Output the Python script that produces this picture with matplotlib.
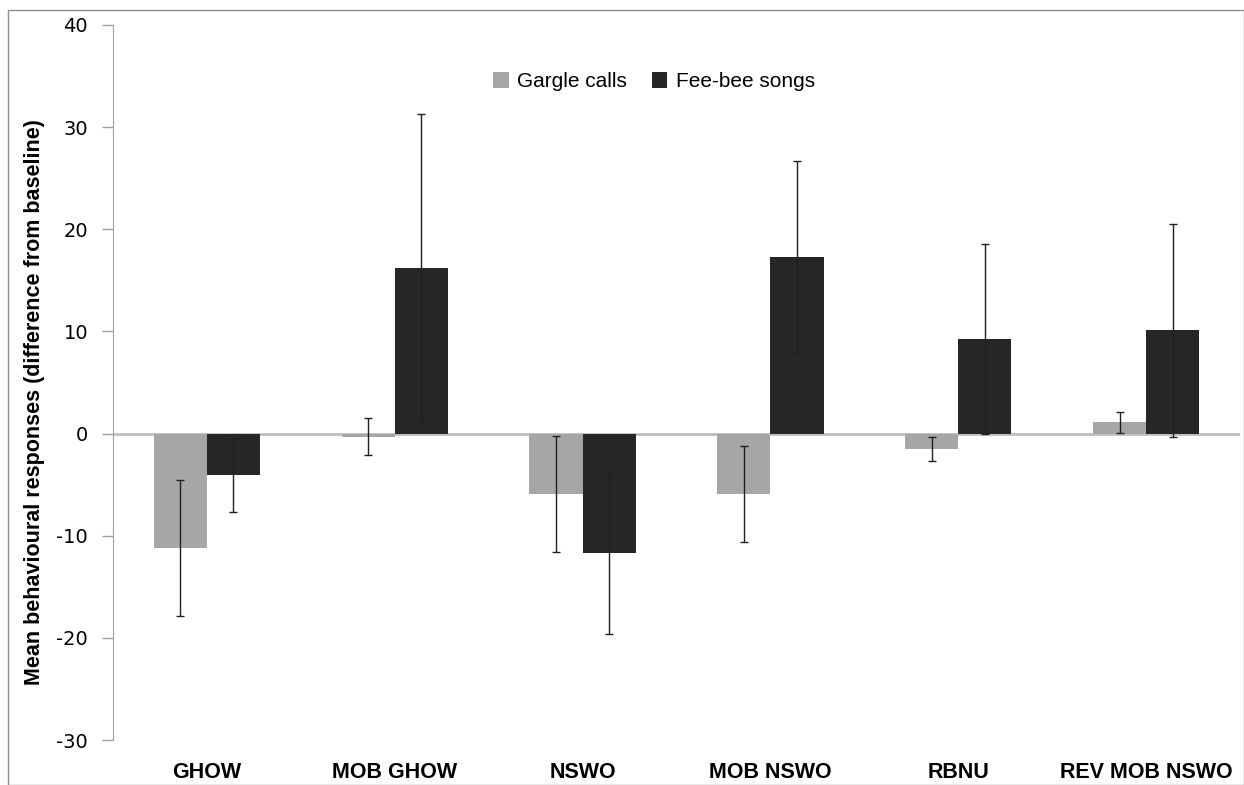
import matplotlib.pyplot as plt
import numpy as np
from matplotlib.patches import Rectangle

categories = ["GHOW", "MOB GHOW", "NSWO", "MOB NSWO", "RBNU", "REV MOB NSWO"]
gargle = [-11.2, -0.3, -5.9, -5.9, -1.5, 1.1]
gargle_err = [6.7, 1.8, 5.7, 4.7, 1.15, 1.0]
feebee = [-4.1, 16.2, -11.7, 17.3, 9.3, 10.1]
feebee_err = [3.6, 15.1, 7.9, 9.4, 9.3, 10.4]
yticks = [-30, -20, -10, 0, 10, 20, 30, 40]

plt.rcParams['font.family'] = ['Liberation Sans', 'DejaVu Sans']

fig = plt.figure(figsize=(12.44, 7.85), dpi=100)
ax = fig.add_axes([113 / 1244, 1 - 740 / 785, 1127 / 1244, 715 / 785])

x = np.arange(len(categories))
w = 0.283
err_kw = dict(ecolor='#202020', elinewidth=1, capsize=3, capthick=1)
ax.bar(x - w / 2, gargle, w, color='#a6a6a6', yerr=gargle_err, error_kw=err_kw,
       label='Gargle calls', zorder=2)
ax.bar(x + w / 2, feebee, w, color='#262626', yerr=feebee_err, error_kw=err_kw,
       label='Fee-bee songs', zorder=2)
ax.axhline(0, color='#bfbfbf', lw=2, zorder=1)

ax.set_xlim(-0.5, len(categories) - 0.5)
ax.set_ylim(-30, 40)
ax.set_yticks(yticks)
ax.set_yticklabels([str(t) for t in yticks], family='DejaVu Sans', fontsize=14)
ax.set_xticks(x)
ax.set_xticklabels(categories, fontsize=15.5, fontweight='bold')
ax.tick_params(axis='x', length=0, pad=16)
ax.tick_params(axis='y', length=8, color='#a0a0a0', width=1, pad=10)
for s in ['top', 'right', 'bottom']:
    ax.spines[s].set_visible(False)
ax.spines['left'].set_color('#a0a0a0')

ax.set_ylabel('Mean behavioural responses (difference from baseline)', fontsize=15.5,
              fontweight='bold')
ax.yaxis.set_label_coords(-0.060, 0.473)

ax.legend(loc='upper center', bbox_to_anchor=(0.48, 0.96), ncol=2, frameon=False,
          fontsize=15, handlelength=0.75, handleheight=0.75, handletextpad=0.4,
          columnspacing=1.2)

fig.patches.append(Rectangle((8 / 1244, 0), 1 - 8 / 1244, 1 - 10 / 785,
                             transform=fig.transFigure, fill=False,
                             edgecolor='#909090', lw=1))

fig.savefig('out.png', dpi=100)
